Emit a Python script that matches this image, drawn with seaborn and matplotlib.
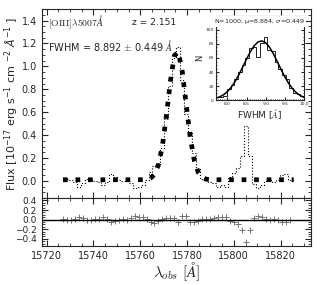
import matplotlib
matplotlib.use("Agg")
import matplotlib.pyplot as plt
from matplotlib.ticker import MultipleLocator
import seaborn as sns
import numpy as np

# ---------------- data ----------------
wave = [15727.0, 15728.7, 15730.4, 15732.1, 15733.8, 15735.5, 15737.2, 15738.9,
        15740.6, 15742.3, 15744.0, 15745.7, 15747.4, 15749.1, 15750.8, 15752.5,
        15754.2, 15755.9, 15757.6, 15759.3, 15761.0, 15762.7, 15764.4, 15766.1,
        15767.8, 15769.5, 15771.2, 15772.9, 15774.6, 15776.3, 15778.0, 15779.7,
        15781.4, 15783.1, 15784.8, 15786.5, 15788.2, 15789.9, 15791.6, 15793.3,
        15795.0, 15796.7, 15798.4, 15800.1, 15801.8, 15803.5, 15805.2, 15806.9,
        15808.6, 15810.3, 15812.0, 15813.7, 15815.4, 15817.1, 15818.8, 15820.5,
        15822.2, 15823.9, 15825.6]

flux = [0.000, 0.020, 0.010, -0.010, -0.050, -0.020, 0.020, 0.010,
        0.000, -0.010, -0.040, -0.010, 0.060, 0.030, 0.010, 0.000,
        0.010, -0.020, -0.060, -0.050, -0.040, 0.010, 0.080, 0.130,
        0.160, 0.290, 0.540, 0.830, 1.070, 1.170, 0.880, 0.580,
        0.430, 0.240, 0.100, 0.020, 0.005, -0.010, -0.020, -0.050,
        -0.040, -0.050, 0.030, 0.070, 0.110, 0.220, 0.480, 0.220,
        -0.030, -0.060, -0.040, 0.000, 0.010, -0.010, 0.010, 0.050,
        0.060, 0.010, 0.000]

model = [0.010, 0.010, 0.010, 0.010, 0.010, 0.010, 0.010, 0.010,
         0.010, 0.010, 0.010, 0.010, 0.010, 0.010, 0.010, 0.010,
         0.010, 0.010, 0.010, 0.010, 0.011, 0.013, 0.024, 0.056,
         0.140, 0.309, 0.571, 0.871, 1.094, 1.126, 0.951, 0.659,
         0.377, 0.180, 0.074, 0.030, 0.015, 0.011, 0.010, 0.010,
         0.010, 0.010, 0.010, 0.010, 0.010, 0.010, 0.010, 0.010,
         0.010, 0.010, 0.010, 0.010, 0.010, 0.010, 0.010, 0.010,
         0.010, 0.010, 0.010]

# Monte Carlo FWHM distribution
fwhm_edges = [7.700, 7.796, 7.892, 7.987, 8.083, 8.179, 8.275, 8.371, 8.467,
              8.562, 8.658, 8.754, 8.850, 8.946, 9.042, 9.137, 9.233, 9.329,
              9.425, 9.521, 9.617, 9.712, 9.808, 9.904, 10.000]
fwhm_counts = [4, 5, 6, 16, 21, 30, 40, 50, 60, 74, 75, 62,
               82, 90, 72, 70, 55, 45, 36, 30, 17, 10, 8, 6]

fit_x = [7.7, 7.8, 7.9, 8.0, 8.1, 8.2, 8.3, 8.4, 8.5, 8.6, 8.7, 8.8,
         8.9, 9.0, 9.1, 9.2, 9.3, 9.4, 9.5, 9.6, 9.7, 9.8, 9.9, 10.0]
fit_y = [2.6, 4.6, 7.6, 12.2, 18.4, 26.5, 36.3, 47.3, 58.6, 69.2, 77.7, 83.0,
         84.4, 81.7, 75.3, 66.0, 55.0, 43.7, 33.0, 23.7, 16.2, 10.5, 6.5, 3.9]

resid = np.array(model) - np.array(flux)
fwhm_centers = 0.5 * (np.array(fwhm_edges[:-1]) + np.array(fwhm_edges[1:]))

# ---------------- style ----------------
sns.set_style("ticks")
plt.rcParams["font.family"] = ["DejaVu Sans"]
plt.rcParams.update({
    "xtick.direction": "in", "ytick.direction": "in",
    "xtick.top": True, "ytick.right": True,
    "xtick.minor.visible": True, "ytick.minor.visible": True,
    "xtick.major.size": 4, "ytick.major.size": 4,
    "xtick.minor.size": 2, "ytick.minor.size": 2,
    "axes.linewidth": 0.8,
})

fig = plt.figure(figsize=(3.2, 2.85), dpi=100)
ax = fig.add_axes([0.131, 0.305, 0.841, 0.663])
axr = fig.add_axes([0.131, 0.137, 0.841, 0.168], sharex=ax)

# main panel
sns.lineplot(x=wave, y=flux, ax=ax, color="black", lw=0.8, linestyle=":",
             drawstyle="steps-mid", estimator=None, sort=False)
sns.lineplot(x=wave, y=model, ax=ax, color="black", lw=3.4, linestyle=":",
             estimator=None, sort=False)
ax.set_xlim(15718, 15833)
ax.set_ylim(-0.15, 1.5)
ax.set_yticks([0.0, 0.2, 0.4, 0.6, 0.8, 1.0, 1.2, 1.4])
ax.xaxis.set_minor_locator(MultipleLocator(5))
ax.yaxis.set_minor_locator(MultipleLocator(0.05))
ax.tick_params(labelsize=7, labelbottom=False)
ax.set_ylabel(r"Flux [10$^{-17}$ erg s$^{-1}$ cm $^{-2}$ $\AA^{-1}$ ]", fontsize=8)
ax.yaxis.set_label_coords(-0.078, 0.5)
ax.text(0.022, 0.93, r"$\mathrm{[OIII]}\lambda5007\AA$", transform=ax.transAxes,
        fontsize=7, va="center", math_fontfamily="cm")
ax.text(0.335, 0.93, "z = 2.151", transform=ax.transAxes, fontsize=6.6, va="center")
ax.text(0.022, 0.81, r"FWHM = 8.892 $\pm$ 0.449 $\AA$", transform=ax.transAxes,
        fontsize=7, va="center", math_fontfamily="cm")

# residual panel
sns.scatterplot(x=wave[:-1], y=resid[:-1], ax=axr, marker="+", color="0.45",
                s=22, linewidth=0.7)
axr.axhline(0, color="black", lw=1)
axr.set_ylim(-0.55, 0.45)
axr.set_yticks([0.4, 0.2, 0.0, -0.2, -0.4])
axr.yaxis.set_minor_locator(MultipleLocator(0.05))
axr.set_xticks([15720, 15740, 15760, 15780, 15800, 15820])
axr.tick_params(labelsize=7)
axr.tick_params(axis="y", labelsize=6.5)
axr.set_xlabel(r"$\lambda_{obs}\ [\AA]$", fontsize=11, math_fontfamily="cm",
               labelpad=0)

# inset histogram
axi = fig.add_axes([0.675, 0.649, 0.275, 0.295])
sns.histplot(x=fwhm_centers, weights=fwhm_counts, bins=fwhm_edges, element="step",
             fill=False, color="black", lw=0.6, ax=axi)
sns.lineplot(x=fit_x, y=fit_y, ax=axi, color="black", lw=1.1, estimator=None)
axi.set_xlim(7.7, 10.0)
axi.set_ylim(0, 120)
axi.set_xticks([8.0, 8.5, 9.0, 9.5, 10.0])
axi.set_yticks([0, 20, 40, 60, 80, 100])
axi.xaxis.set_minor_locator(MultipleLocator(0.05))
axi.yaxis.set_minor_locator(MultipleLocator(5))
axi.tick_params(labelsize=3.2, length=2, pad=1.5)
axi.tick_params(which="minor", length=1)
axi.set_xlabel(r"FWHM [$\AA$]", fontsize=6.5, labelpad=1, math_fontfamily="cm")
axi.set_ylabel("N", fontsize=6, labelpad=1)
axi.text(0.5, 0.935, r"N=1000, μ=8.884, $\sigma$=0.449", transform=axi.transAxes,
         fontsize=4.6, ha="center", va="center",
         bbox=dict(facecolor="white", edgecolor="none", pad=0.5))

fig.savefig("out.png", dpi=100)
